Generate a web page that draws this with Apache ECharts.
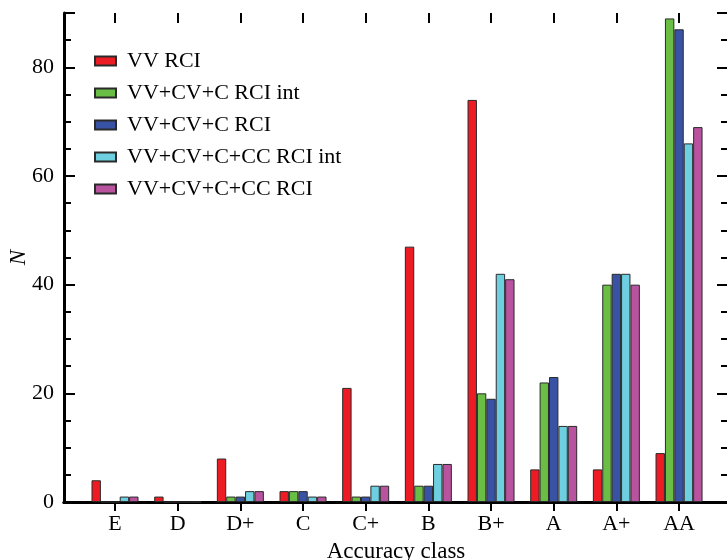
<!DOCTYPE html>
<html>
<head>
<meta charset="utf-8">
<script src="https://cdn.jsdelivr.net/npm/echarts@6/dist/echarts.min.js"></script>
<style>
html,body{margin:0;padding:0;background:#fff;}
#chart{width:727px;height:560px;}
</style>
</head>
<body>
<div id="chart"></div>
<script>
const categories = ['E','D','D+','C','C+','B','B+','A','A+','AA'];
const seriesNames = ['VV RCI','VV+CV+C RCI int','VV+CV+C RCI','VV+CV+C+CC RCI int','VV+CV+C+CC RCI'];
const vvRci        = [4, 1, 8, 2, 21, 47, 74, 6, 6, 9];
const vvCvCRciInt  = [0, 0, 1, 2, 1, 3, 20, 22, 40, 89];
const vvCvCRci     = [0, 0, 1, 2, 1, 3, 19, 23, 42, 87];
const vvCvCCcRciInt= [1, 0, 2, 1, 3, 7, 42, 14, 42, 66];
const vvCvCCcRci   = [1, 0, 2, 1, 3, 7, 41, 14, 40, 69];
const yTickLabels = [0, 20, 40, 60, 80];
const colors = ['#ED1C24','#6ABD45','#3953A4','#6DCFDF','#B9529F'];
const seriesData = [vvRci, vvCvCRciInt, vvCvCRci, vvCvCCcRciInt, vvCvCCcRci];

const FONT = "'Liberation Serif','Times New Roman',serif";
const chart = echarts.init(document.getElementById('chart'), null, {renderer:'canvas'});
const axisLineStyle = {color:'#000', width:3};
const hidden = {show:false};

chart.setOption({
  animation:false,
  backgroundColor:'#fff',
  textStyle:{fontFamily:FONT, color:'#000'},
  grid:[
    {left:64, top:13, width:664, bottom:58, containLabel:false, outerBoundsMode:'none'},
    {left:83.67, top:13, width:626.7, bottom:58, containLabel:false, outerBoundsMode:'none'}
  ],
  legend:{
    orient:'vertical', left:94, top:50, padding:0,
    itemWidth:21, itemHeight:9, itemGap:10,
    icon:'rect',
    data:seriesNames,
    textStyle:{fontFamily:FONT, fontSize:22, color:'#000', padding:[0,0,0,6]}
  },
  xAxis:[
    {gridIndex:0, type:'value', min:0, max:1, position:'bottom',
     axisLine:{show:true, lineStyle:axisLineStyle}, axisTick:hidden, axisLabel:hidden, splitLine:hidden,
     name:'Accuracy class', nameLocation:'middle', nameGap:38, nameMoveOverlap:false,
     nameTextStyle:{fontFamily:FONT, fontSize:23, color:'#000'}},
    {gridIndex:0, type:'value', min:0, max:1, position:'top',
     axisLine:{show:true, lineStyle:axisLineStyle}, axisTick:hidden, axisLabel:hidden, splitLine:hidden},
    {gridIndex:1, type:'category', data:categories, position:'bottom',
     axisLine:{show:false}, axisTick:{show:true, alignWithLabel:true, inside:false, length:9, lineStyle:{color:'#000', width:2}},
     axisLabel:{fontFamily:FONT, fontSize:22, color:'#000', margin:11}, splitLine:hidden},
    {gridIndex:1, type:'category', data:categories, position:'top',
     axisLine:{show:false}, axisTick:{show:true, alignWithLabel:true, inside:true, length:10, lineStyle:{color:'#000', width:2}},
     axisLabel:hidden, splitLine:hidden}
  ],
  yAxis:[
    {gridIndex:0, type:'value', min:0, max:90, interval:5, position:'left',
     axisLine:{show:true, lineStyle:axisLineStyle},
     axisTick:{show:true, inside:true, length:7, lineStyle:{color:'#000', width:2}},
     axisLabel:{fontFamily:FONT, fontSize:22, color:'#000', margin:10,
       formatter:v => yTickLabels.includes(v) ? String(v) : ''},
     splitLine:hidden,
     name:'N', nameLocation:'middle', nameGap:34, nameMoveOverlap:false,
     nameTextStyle:{fontFamily:FONT, fontSize:23, fontStyle:'italic', color:'#000'}},
    {gridIndex:0, type:'value', min:0, max:90, interval:20, position:'left',
     axisLine:{show:false}, axisTick:{show:true, inside:true, length:11, lineStyle:{color:'#000', width:2}},
     axisLabel:hidden, splitLine:hidden},
    {gridIndex:0, type:'value', min:0, max:90, interval:5, position:'right',
     axisLine:{show:true, lineStyle:axisLineStyle},
     axisTick:{show:true, inside:true, length:7, lineStyle:{color:'#000', width:2}},
     axisLabel:hidden, splitLine:hidden},
    {gridIndex:0, type:'value', min:0, max:90, interval:20, position:'right',
     axisLine:{show:false}, axisTick:{show:true, inside:true, length:11, lineStyle:{color:'#000', width:2}},
     axisLabel:hidden, splitLine:hidden},
    {gridIndex:1, type:'value', min:0, max:90, show:false}
  ],
  series: seriesNames.map((name, i) => ({
    name, type:'bar', xAxisIndex:2, yAxisIndex:4,
    data: seriesData[i],
    barGap:'0%', barCategoryGap:'25%',
    itemStyle:{color:colors[i], borderColor:'#2a2a2a', borderWidth:1}
  }))
});
</script>
</body>
</html>
